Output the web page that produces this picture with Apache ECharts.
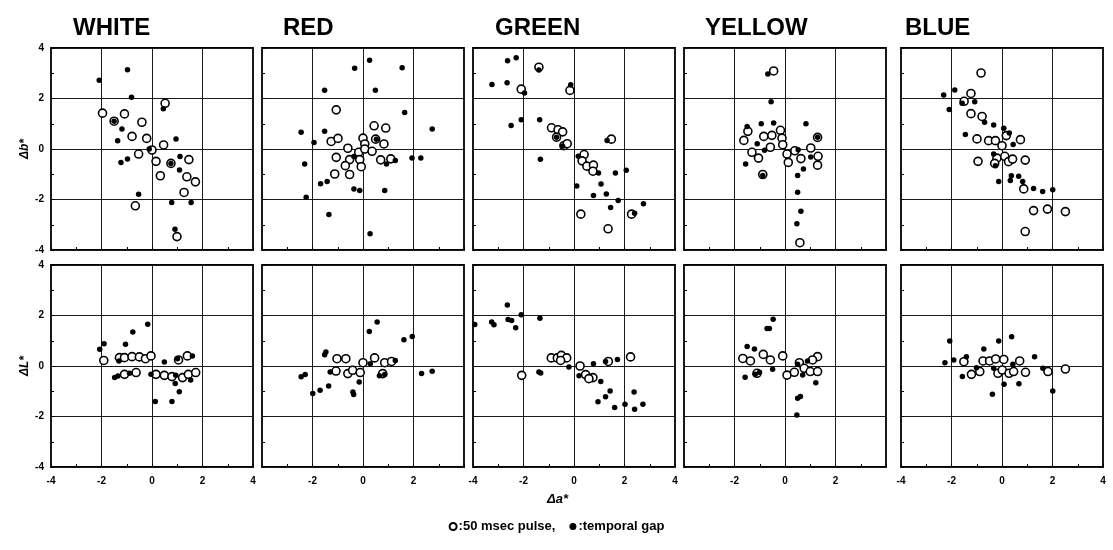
<!DOCTYPE html>
<html>
<head>
<meta charset="utf-8">
<script src="https://cdn.jsdelivr.net/npm/echarts@6/dist/echarts.min.js"></script>
<style>
html, body { margin: 0; padding: 0; background: #fff; }
#container { width: 1113px; height: 550px; }
</style>
</head>
<body>
<div id="container"></div>
<script>
// 面板标题
var colorNames = ['WHITE', 'RED', 'GREEN', 'YELLOW', 'BLUE'];
var tickValues = [-4, -2, 0, 2, 4];

// 上排：Δb* 对 Δa*   (open = 50 msec pulse, gap = temporal gap)
var whiteBOpen = [[-1.96,1.42],[-1.09,1.39],[-0.40,1.06],[0.52,1.81],[-0.79,0.50],[-0.21,0.42],[0.46,0.16],[-0.53,-0.20],[0,-0.04],[0.16,-0.49],[0.75,-0.57],[1.46,-0.42],[0.33,-1.06],[1.38,-1.10],[1.72,-1.30],[1.27,-1.72],[-0.66,-2.25],[0.99,-3.47],[-1.50,1.10]];
var whiteBGap = [[-0.97,3.14],[-2.09,2.72],[-0.81,2.05],[0.45,1.59],[-1.50,1.10],[-1.19,0.79],[-1.36,0.33],[0.95,0.40],[-0.11,0],[-1.23,-0.53],[-0.97,-0.40],[0.75,-0.57],[1.11,-0.30],[1.09,-0.83],[-0.53,-1.79],[0.78,-2.12],[1.55,-2.12],[0.91,-3.18]];

var redBOpen = [[-1.06,1.55],[0.44,0.92],[0.90,0.83],[0.50,0.39],[0,0.43],[0.07,0.20],[0.83,0.20],[-1.26,0.30],[-0.99,0.42],[-0.60,0.03],[-0.17,-0.13],[0.07,0],[0.36,-0.09],[-1.06,-0.33],[-0.53,-0.42],[-0.13,-0.42],[-0.70,-0.66],[-0.07,-0.70],[0.70,-0.43],[1.10,-0.39],[-1.12,-0.99],[-0.53,-1.01]];
var redBGap = [[0.26,3.51],[-0.33,3.20],[1.55,3.22],[-1.52,2.33],[0.49,2.33],[1.65,1.45],[-2.45,0.66],[-1.52,0.70],[2.74,0.79],[-1.94,0.26],[0.53,0.39],[-2.31,-0.59],[-0.36,-0.30],[1.28,-0.46],[0.93,-0.59],[1.94,-0.36],[2.29,-0.36],[-1.68,-1.38],[-1.42,-1.29],[-0.36,-1.58],[-0.13,-1.64],[0.86,-1.64],[-2.25,-1.91],[-1.35,-2.59],[0.28,-3.36]];

var greenBOpen = [[-1.39,3.24],[-2.09,2.37],[-0.16,2.32],[-0.89,0.84],[-0.63,0.76],[-0.45,0.68],[-0.69,0.47],[-0.40,0.13],[-0.27,0.21],[1.48,0.39],[0.40,-0.22],[0.32,-0.47],[0.51,-0.68],[0.77,-0.64],[0.75,-0.88],[0.27,-2.58],[2.28,-2.58],[1.35,-3.16]];
var greenBGap = [[-2.63,3.50],[-2.29,3.61],[-3.25,2.55],[-2.65,2.62],[-1.39,3.13],[-1.96,2.22],[-0.13,2.54],[-2.49,0.93],[-2.09,1.16],[-1.36,1.16],[-0.69,0.47],[-0.45,0.11],[-1.33,-0.41],[1.31,0.34],[0.17,-0.29],[0.97,-0.95],[1.64,-0.95],[2.07,-0.84],[0.11,-1.47],[1.07,-1.39],[1.28,-1.78],[0.77,-1.84],[1.75,-2.04],[1.45,-2.32],[2.75,-2.17],[2.40,-2.54]];

var yellowBOpen = [[-0.45,3.09],[-1.47,0.70],[-1.63,0.34],[-1.31,-0.13],[-1.05,-0.36],[-0.84,0.50],[-0.52,0.54],[-0.18,0.74],[-0.12,0.43],[-0.09,0.17],[-0.58,0.07],[0.08,-0.20],[0.13,-0.53],[0.39,-0.07],[0.63,-0.38],[1.02,0.04],[1.31,-0.29],[1.29,-0.64],[-0.88,-1.01],[1.29,0.46],[0.59,-3.71]];
var yellowBGap = [[-0.68,2.97],[-0.55,1.87],[-1.50,0.89],[-0.94,1.00],[-0.45,1.03],[0.83,1.00],[-1.10,0.21],[-0.81,-0.05],[0.52,-0.03],[1.29,0.47],[1.02,-0.32],[-1.56,-0.59],[0.73,-0.79],[-0.88,-1.05],[0.50,-1.05],[0.50,-1.71],[0.63,-2.47],[0.47,-2.96]];

var blueBOpen = [[-0.83,3.01],[-1.23,2.20],[-1.50,1.89],[-1.23,1.40],[-0.79,1.29],[-0.99,0.40],[-0.53,0.33],[-0.26,0.33],[0,0.13],[0.17,0.53],[0.73,0.37],[-0.20,-0.36],[0.11,-0.29],[0.26,-0.50],[0.42,-0.40],[-0.29,-0.57],[-0.95,-0.49],[0.92,-0.44],[0.86,-1.58],[1.25,-2.44],[1.80,-2.38],[2.51,-2.48],[0.92,-3.27]];
var blueBGap = [[-2.31,2.14],[-1.87,2.34],[-1.58,1.81],[-1.08,1.87],[-2.09,1.56],[-0.69,1.06],[-0.33,0.95],[0.07,0.82],[0.29,0.63],[-1.45,0.57],[0.44,0.18],[-0.33,-0.20],[-0.26,-0.66],[-0.13,-1.29],[0.37,-1.06],[0.33,-1.25],[0.66,-1.08],[0.82,-1.29],[1.25,-1.56],[1.61,-1.68],[2.01,-1.61]];

// 下排：ΔL* 对 Δa*
var whiteLOpen = [[-1.91,0.22],[-1.29,0.33],[-1.09,0.33],[-0.79,0.37],[-0.50,0.36],[-0.26,0.29],[-0.04,0.40],[-0.63,-0.26],[-1.09,-0.33],[0.16,-0.33],[0.49,-0.37],[0.79,-0.42],[1.21,-0.46],[1.44,-0.33],[1.73,-0.26],[1.40,0.40],[1.05,0.24]];
var whiteLGap = [[-2.07,0.66],[-1.90,0.88],[-0.76,1.35],[-1.05,0.86],[-0.17,1.65],[-1.31,0.20],[-1.48,-0.46],[-1.35,-0.40],[-0.89,-0.29],[-0.04,-0.33],[0.49,0.16],[1.01,0.29],[0.13,-1.41],[0.79,-1.41],[0.92,-0.69],[1.08,-1.02],[0.94,-0.37],[1.53,-0.55],[1.60,0.40]];

var redLOpen = [[-1.03,0.29],[-0.68,0.29],[-1.07,-0.20],[-0.60,-0.30],[-0.41,-0.17],[-0.11,-0.26],[0,0.13],[0.46,0.32],[0.86,0.13],[1.13,0.18],[0.78,-0.30]];
var redLGap = [[0.56,1.74],[0.25,1.37],[1.62,1.04],[1.95,1.17],[-1.47,0.55],[-1.52,0.45],[-2.45,-0.43],[-2.29,-0.34],[-1.99,-1.09],[-1.70,-0.96],[-1.36,-0.79],[-0.40,-1.03],[-0.37,-1.13],[-0.15,-0.63],[-1.30,-0.24],[0.29,0.09],[0.65,-0.39],[0.86,-0.34],[1.28,0.22],[2.32,-0.30],[2.74,-0.21]];

var greenLOpen = [[-2.07,-0.37],[-0.90,0.32],[-0.66,0.32],[-0.50,0.42],[-0.29,0.32],[-0.53,0.22],[0.24,0],[0.46,-0.34],[0.75,-0.46],[0.59,-0.50],[1.36,0.18],[2.24,0.36]];
var greenLGap = [[-3.93,1.64],[-3.26,1.74],[-3.17,1.63],[-2.64,2.42],[-2.61,1.84],[-2.47,1.80],[-2.09,2.03],[-2.31,1.51],[-1.35,1.89],[-1.39,-0.24],[-1.32,-0.28],[-0.20,-0.04],[0.20,-0.39],[0.77,0.09],[1.25,0.18],[1.72,0.26],[1.06,-0.61],[1.43,-0.99],[1.25,-1.22],[0.95,-1.42],[1.61,-1.64],[2.38,-1.03],[2.02,-1.51],[2.40,-1.71],[2.73,-1.51]];

var yellowLOpen = [[-1.67,0.30],[-1.37,0.20],[-0.86,0.46],[-0.58,0.24],[-0.09,0.40],[-1.11,-0.29],[0.08,-0.36],[0.37,-0.25],[0.57,0.13],[0.76,-0.09],[1.00,-0.22],[1.29,-0.22],[1.29,0.37],[1.09,0.24]];
var yellowLGap = [[-0.47,1.85],[-0.71,1.49],[-0.62,1.49],[-1.50,0.77],[-1.21,0.67],[-1.58,-0.45],[-1.18,-0.33],[-1.01,-0.25],[-0.49,-0.13],[0.50,-1.28],[0.61,-1.21],[0.47,-1.94],[1.22,-0.66],[0.70,-0.36],[0.89,0.20],[0.50,0.07]];

var blueLOpen = [[-1.51,0.17],[-1.21,-0.33],[-0.88,-0.22],[-0.75,0.20],[-0.49,0.20],[-0.25,0.28],[0.07,0.26],[-0.16,-0.29],[0.01,-0.16],[0.28,-0.29],[0.46,-0.22],[0.70,0.20],[0.93,-0.25],[1.82,-0.22],[2.51,-0.12]];
var blueLGap = [[-2.07,0.99],[-2.26,0.13],[-1.91,0.24],[-1.41,0.37],[-0.72,0.67],[-0.13,0.99],[0.38,1.16],[-1.57,-0.42],[-1.01,-0.07],[-0.33,-0.09],[0.08,-0.72],[-0.38,-1.12],[0.67,-0.70],[1.29,0.37],[1.62,-0.09],[2.01,-0.99],[0.43,0.07]];

var openSets = [whiteBOpen, redBOpen, greenBOpen, yellowBOpen, blueBOpen, whiteLOpen, redLOpen, greenLOpen, yellowLOpen, blueLOpen];
var gapSets  = [whiteBGap, redBGap, greenBGap, yellowBGap, blueBGap, whiteLGap, redLGap, greenLGap, yellowLGap, blueLGap];

var dom = document.getElementById('container');
var myChart = echarts.init(dom, null, { renderer: 'canvas' });

var colLeft = [51, 262, 473, 684, 901];	// 每列左边界
var rowTop = [48, 265];						// 每行上边界
var panelSize = 202;
var titleLeft = [68, 278, 490, 700, 900];
var fontCond = 'Liberation Sans';

var grids = [], xAxes = [], yAxes = [], series = [], titles = [];

for (var c = 0; c < 5; c++) {
	titles.push({
		text: colorNames[c], left: titleLeft[c], top: 11,
		textStyle: { fontFamily: fontCond, fontWeight: 'bold', fontSize: 24, color: '#000' }
	});
}

for (var k = 0; k < 10; k++) {
	var r = Math.floor(k / 5), c = k % 5;
	grids.push({
		left: colLeft[c], top: rowTop[r], width: panelSize, height: panelSize,
		show: true, borderColor: '#000', borderWidth: 1.8, backgroundColor: 'transparent'
	});
	var common = {
		gridIndex: k, type: 'value', min: -4, max: 4, interval: 2,
		axisLine: { show: false, onZero: false },
		axisTick: { show: true, inside: true, length: 3, lineStyle: { color: '#000' } },
		minorTick: { show: true, splitNumber: 2, length: 3, lineStyle: { color: '#000' } },
		splitLine: { show: true, lineStyle: { color: '#1a1a1a', width: 1 } }
	};
	xAxes.push(Object.assign({}, common, {
		axisLabel: {
			show: r === 1, margin: 9, color: '#000', fontFamily: fontCond, fontWeight: 'bold', fontSize: 10,
			showMinLabel: c % 2 === 0, showMaxLabel: c % 2 === 0
		}
	}));
	yAxes.push(Object.assign({}, common, {
		name: c === 0 ? (r === 0 ? 'Δb*' : 'ΔL*') : '',
		nameLocation: 'middle', nameGap: 20, nameRotate: 90,
		nameTextStyle: { fontFamily: fontCond, fontWeight: 'bold', fontStyle: 'italic', fontSize: 12, color: '#000' },
		axisLabel: { show: c === 0, margin: 7, color: '#000', fontFamily: fontCond, fontWeight: 'bold', fontSize: 10 }
	}));
	series.push({
		name: '50 msec pulse', type: 'scatter', xAxisIndex: k, yAxisIndex: k,
		symbol: 'circle', symbolSize: 8, data: openSets[k],
		itemStyle: { color: '#fff', borderColor: '#000', borderWidth: 1.6, opacity: 1 }
	});
	series.push({
		name: 'temporal gap', type: 'scatter', xAxisIndex: k, yAxisIndex: k,
		symbol: 'circle', symbolSize: 5.5, data: gapSets[k],
		itemStyle: { color: '#000', opacity: 1 }
	});
}

var option = {
	backgroundColor: '#fff',
	animation: false,
	title: titles,
	grid: grids,
	xAxis: xAxes,
	yAxis: yAxes,
	legend: {
		bottom: 12, left: 'center', itemWidth: 7, itemHeight: 7, itemGap: 14,
		data: ['50 msec pulse', 'temporal gap'],
		formatter: function(n) { return n === '50 msec pulse' ? ':50 msec pulse,' : ':temporal gap'; },
		textStyle: { fontFamily: fontCond, fontWeight: 'bold', fontSize: 13, color: '#000', padding: [0, 0, 0, -3] }
	},
	graphic: [{
		type: 'text', left: 547, top: 493,
		style: { text: 'Δa*', font: 'italic bold 13px "Liberation Sans"', fill: '#000' }
	}],
	series: series
};

myChart.setOption(option);
</script>
</body>
</html>
